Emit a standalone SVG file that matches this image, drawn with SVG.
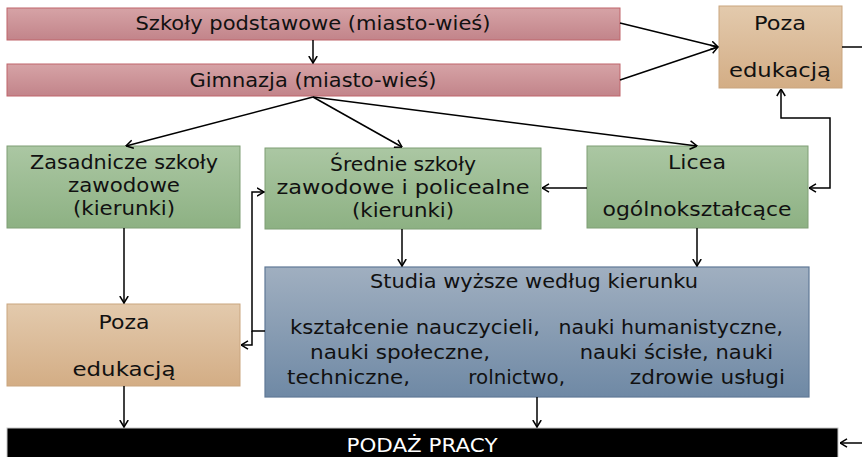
<svg xmlns="http://www.w3.org/2000/svg" width="862" height="457" viewBox="0 0 862 457">
<defs>
<linearGradient id="gPink" x1="0" y1="0" x2="0" y2="1"><stop offset="0" stop-color="#d6a3a6"/><stop offset="1" stop-color="#c2848a"/></linearGradient>
<linearGradient id="gGreen" x1="0" y1="0" x2="0" y2="1"><stop offset="0" stop-color="#abc7a3"/><stop offset="1" stop-color="#8db183"/></linearGradient>
<linearGradient id="gTan" x1="0" y1="0" x2="0" y2="1"><stop offset="0" stop-color="#e3caad"/><stop offset="1" stop-color="#d3ad85"/></linearGradient>
<linearGradient id="gBlue" x1="0" y1="0" x2="0" y2="1"><stop offset="0" stop-color="#a0afc0"/><stop offset="1" stop-color="#6f89a5"/></linearGradient>
<marker id="arr" viewBox="0 0 8 10" refX="7.5" refY="5" markerWidth="8" markerHeight="10" markerUnits="userSpaceOnUse" orient="auto">
<path d="M0.5,0.8 L7.5,5 L0.5,9.2" fill="none" stroke="#000" stroke-width="1.5"/>
</marker>
<marker id="arrs" viewBox="0 0 8 10" refX="7.5" refY="5" markerWidth="8" markerHeight="10" markerUnits="userSpaceOnUse" orient="auto-start-reverse">
<path d="M0.5,0.8 L7.5,5 L0.5,9.2" fill="none" stroke="#000" stroke-width="1.5"/>
</marker>
</defs>
<style>
text{font-family:"DejaVu Sans","Liberation Sans",sans-serif;fill:#111;font-size:20px;text-anchor:middle}
.pink{fill:url(#gPink);stroke:#c0646a;stroke-width:1}
.green{fill:url(#gGreen);stroke:#7f9e74;stroke-width:1}
.tan{fill:url(#gTan);stroke:#c9a57f;stroke-width:1}
.blue{fill:url(#gBlue);stroke:#5f7896;stroke-width:1.2}
.bar{fill:#000;stroke:#c8c8c8;stroke-width:1}
.w{fill:#fff}
.l{text-anchor:start}
#connectors path,#connectors line{fill:none;stroke:#000;stroke-width:1.5}
</style>
<rect width="862" height="457" fill="#fff"/>

<g id="n-szkoly">
<rect class="pink" x="7" y="8" width="613" height="32"/>
<text x="313" y="30" textLength="355" lengthAdjust="spacingAndGlyphs">Szkoły podstawowe (miasto-wieś)</text>
</g>
<g id="n-gimnazja">
<rect class="pink" x="7" y="64" width="613" height="32"/>
<text x="313" y="87" textLength="247" lengthAdjust="spacingAndGlyphs">Gimnazja (miasto-wieś)</text>
</g>
<g id="n-poza-top">
<rect class="tan" x="719" y="6" width="123" height="82"/>
<text x="780" y="30" textLength="52" lengthAdjust="spacingAndGlyphs">Poza</text>
<text x="780" y="77" textLength="102" lengthAdjust="spacingAndGlyphs">edukacją</text>
</g>
<g id="n-zasadnicze">
<rect class="green" x="7" y="146" width="233" height="82"/>
<text x="124" y="169" textLength="188" lengthAdjust="spacingAndGlyphs">Zasadnicze szkoły</text>
<text x="124" y="192" textLength="112" lengthAdjust="spacingAndGlyphs">zawodowe</text>
<text x="124" y="215" textLength="102" lengthAdjust="spacingAndGlyphs">(kierunki)</text>
</g>
<g id="n-srednie">
<rect class="green" x="265" y="148" width="276" height="81"/>
<text x="403" y="171" textLength="146" lengthAdjust="spacingAndGlyphs">Średnie szkoły</text>
<text x="403" y="194" textLength="253" lengthAdjust="spacingAndGlyphs">zawodowe i policealne</text>
<text x="403" y="217" textLength="102" lengthAdjust="spacingAndGlyphs">(kierunki)</text>
</g>
<g id="n-licea">
<rect class="green" x="587" y="146" width="221" height="82"/>
<text x="697" y="169" textLength="58" lengthAdjust="spacingAndGlyphs">Licea</text>
<text x="697" y="216" textLength="189" lengthAdjust="spacingAndGlyphs">ogólnokształcące</text>
</g>
<g id="n-studia">
<rect class="blue" x="265" y="267" width="544" height="130"/>
<text x="534" y="288" textLength="328" lengthAdjust="spacingAndGlyphs">Studia wyższe według kierunku</text>
<text class="l" y="334"><tspan x="290" textLength="250" lengthAdjust="spacingAndGlyphs">kształcenie nauczycieli,</tspan><tspan x="552" textLength="231" lengthAdjust="spacingAndGlyphs"> nauki humanistyczne,</tspan></text>
<text class="l" y="359"><tspan x="310" textLength="180" lengthAdjust="spacingAndGlyphs">nauki społeczne,</tspan><tspan x="573" textLength="200" lengthAdjust="spacingAndGlyphs"> nauki ścisłe, nauki</tspan></text>
<text class="l" y="384"><tspan x="287" textLength="123" lengthAdjust="spacingAndGlyphs">techniczne,</tspan><tspan x="462" textLength="103" lengthAdjust="spacingAndGlyphs"> rolnictwo,</tspan><tspan x="623" textLength="162" lengthAdjust="spacingAndGlyphs"> zdrowie usługi</tspan></text>
</g>
<g id="n-poza-bottom">
<rect class="tan" x="7" y="304" width="233" height="82"/>
<text x="124" y="329" textLength="51" lengthAdjust="spacingAndGlyphs">Poza</text>
<text x="124" y="376" textLength="103" lengthAdjust="spacingAndGlyphs">edukacją</text>
</g>
<g id="n-podaz">
<rect class="bar" x="7" y="428" width="831" height="34"/>
<text class="w" x="422" y="452" textLength="151" lengthAdjust="spacingAndGlyphs">PODAŻ PRACY</text>
</g>

<g id="connectors">
<line x1="313" y1="40" x2="313" y2="63" marker-end="url(#arr)"/>
<line x1="620" y1="23" x2="718" y2="47" marker-end="url(#arr)"/>
<line x1="620" y1="80" x2="718" y2="47" marker-end="url(#arr)"/>
<line x1="842" y1="47" x2="862" y2="47"/>
<line x1="313" y1="97" x2="126" y2="146" marker-end="url(#arr)"/>
<line x1="313" y1="97" x2="402" y2="147" marker-end="url(#arr)"/>
<line x1="313" y1="97" x2="697" y2="146" marker-end="url(#arr)"/>
<path d="M781,89 V118 H830 V188 H809" marker-start="url(#arrs)" marker-end="url(#arr)"/>
<line x1="587" y1="188" x2="542" y2="188" marker-end="url(#arr)"/>
<line x1="124" y1="228" x2="124" y2="303" marker-end="url(#arr)"/>
<line x1="402" y1="229" x2="402" y2="266" marker-end="url(#arr)"/>
<line x1="697" y1="228" x2="697" y2="266" marker-end="url(#arr)"/>
<path d="M265,331 H252 V192 H264" marker-end="url(#arr)"/>
<path d="M252,331 V345 H241" marker-end="url(#arr)"/>
<line x1="124" y1="386" x2="124" y2="427" marker-end="url(#arr)"/>
<line x1="537" y1="397" x2="537" y2="427" marker-end="url(#arr)"/>
<line x1="862" y1="443" x2="840" y2="443" marker-end="url(#arr)"/>
</g>
</svg>
